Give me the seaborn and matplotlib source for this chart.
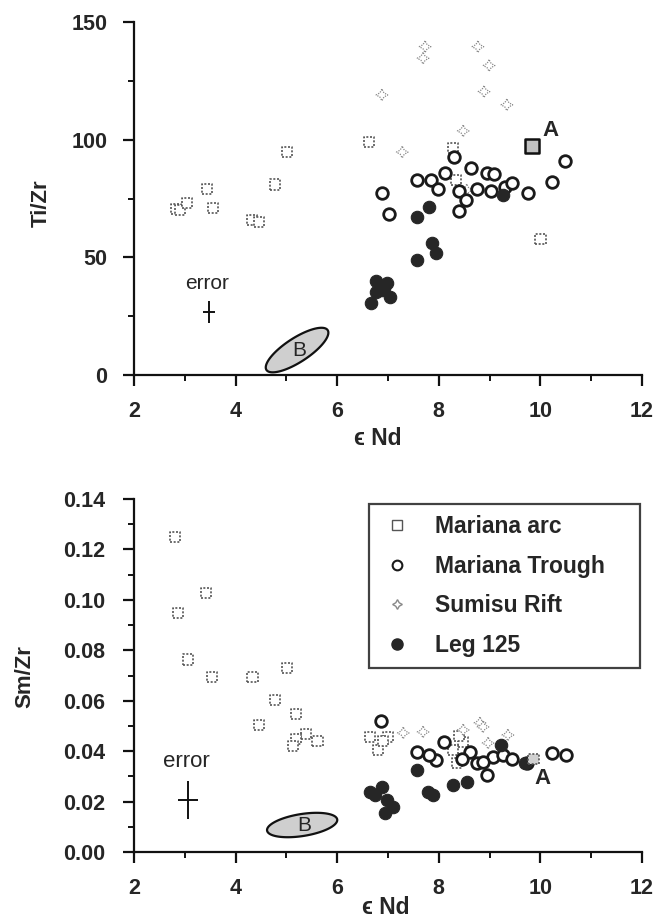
import numpy as np
import pandas as pd
import matplotlib
matplotlib.use("Agg")
import matplotlib.pyplot as plt
import seaborn as sns
from matplotlib.lines import Line2D

# ---------------- data ----------------
# Top panel: eps Nd vs Ti/Zr
arc_top_x = [2.83, 2.90, 3.04, 3.44, 3.56, 4.32, 4.46, 4.78, 5.01, 6.63, 8.28, 8.34, 10.0]
arc_top_y = [70.5, 70.0, 73.0, 79.0, 71.0, 66.0, 65.0, 81.0, 94.7, 99.0, 96.5, 83.0, 57.7]
trough_top_x = [6.88, 7.02, 7.57, 7.85, 7.98, 8.12, 8.63, 8.40, 8.54, 8.40, 8.75, 8.95, 9.09,
                9.03, 9.30, 9.44, 9.76, 10.22, 10.48, 8.30]
trough_top_y = [77.3, 68.4, 82.9, 82.9, 79.0, 86.0, 88.0, 78.2, 74.4, 69.7, 79.0, 86.0, 85.4,
                78.2, 80.0, 81.6, 77.3, 82.0, 91.0, 92.5]
sumisu_top_x = [7.73, 7.69, 6.88, 8.77, 8.99, 8.89, 9.34, 8.48, 7.28, 8.55]
sumisu_top_y = [139.5, 134.6, 119.0, 139.5, 131.5, 120.4, 114.8, 103.7, 94.7, 78.6]
leg_top_x = [9.27, 7.81, 7.57, 7.87, 7.94, 7.57, 6.76, 6.99, 6.76, 6.88, 7.04, 6.66, 6.92]
leg_top_y = [76.5, 71.4, 67.3, 56.0, 51.8, 48.9, 40.0, 39.0, 35.3, 36.0, 33.2, 30.5, 37.0]
a_top_x = [9.83]
a_top_y = [97.3]

# Bottom panel: eps Nd vs Sm/Zr
arc_bot_x = [2.81, 2.87, 3.42, 3.06, 3.54, 4.33, 5.01, 4.78, 4.46, 5.19, 5.39, 5.19, 5.13, 5.61,
             6.65, 7.00, 6.80, 6.90, 8.48, 8.28, 8.36, 8.40]
arc_bot_y = [0.125, 0.0947, 0.1028, 0.0764, 0.0693, 0.0693, 0.0731, 0.0603, 0.0504, 0.0547,
             0.0468, 0.0448, 0.0420, 0.0440, 0.0456, 0.0456, 0.0405, 0.0440, 0.0436, 0.0405,
             0.0353, 0.0460]
trough_bot_x = [6.86, 7.57, 7.94, 7.81, 8.10, 8.61, 8.75, 8.95, 9.07, 9.27, 9.44, 9.74, 10.22,
                10.50, 8.87, 8.45]
trough_bot_y = [0.052, 0.0397, 0.0365, 0.0385, 0.0436, 0.0397, 0.0353, 0.0305, 0.0377, 0.0385,
                0.0369, 0.0353, 0.0393, 0.0385, 0.0357, 0.0370]
sumisu_bot_x = [7.30, 7.69, 8.81, 8.87, 8.97, 9.36, 8.48]
sumisu_bot_y = [0.0472, 0.0476, 0.0512, 0.0496, 0.0432, 0.0464, 0.0484]
leg_bot_x = [9.22, 7.57, 6.65, 6.88, 6.98, 7.10, 6.94, 6.74, 7.79, 7.89, 8.28, 8.55, 9.70]
leg_bot_y = [0.0424, 0.0325, 0.0238, 0.0258, 0.0206, 0.0178, 0.0155, 0.0226, 0.0238, 0.0226,
             0.0266, 0.0278, 0.0353]
a_bot_x = [9.86]
a_bot_y = [0.0369]

series_names = ["Mariana arc", "Mariana Trough", "Sumisu Rift", "Leg 125"]
x_ticks = [2, 4, 6, 8, 10, 12]
y_ticks_top = [0, 50, 100, 150]
y_ticks_bot = [0.00, 0.02, 0.04, 0.06, 0.08, 0.10, 0.12, 0.14]

# ---------------- style ----------------
sns.set_theme(style="ticks")
plt.rcParams['font.family'] = ['Liberation Sans', 'DejaVu Sans']
plt.rcParams['font.weight'] = 'bold'

W, H = 664, 919
fig = plt.figure(figsize=(W / 100, H / 100), dpi=100)
ax1 = fig.add_axes([134 / W, 1 - 375 / H, 508 / W, 353 / H])
ax2 = fig.add_axes([134 / W, 1 - 852 / H, 508 / W, 353 / H])

styles = {
    "Mariana arc": dict(marker="s", s=55, facecolor="white", edgecolor="#555555",
                        linewidth=1.2, linestyle=(0, (1.2, 1.0))),
    "Mariana Trough": dict(marker="o", s=70, facecolor="white", edgecolor="#1a1a1a",
                           linewidth=2.0),
    "Sumisu Rift": dict(marker=(4, 1, 0), s=70, facecolor="white", edgecolor="#888888",
                        linewidth=0.9, linestyle=(0, (1.0, 1.0))),
    "Leg 125": dict(marker="o", s=80, facecolor="#262626", edgecolor="#262626",
                    linewidth=0.8),
}


def draw(ax, data):
    for name, (xs, ys) in data.items():
        df = pd.DataFrame({"x": xs, "y": ys})
        st = dict(styles[name])
        fc = st.pop("facecolor")
        ec = st.pop("edgecolor")
        sns.scatterplot(data=df, x="x", y="y", ax=ax, color=fc, edgecolor=ec,
                        legend=False, clip_on=False, zorder=3, **st)


draw(ax1, {"Mariana arc": (arc_top_x, arc_top_y),
           "Sumisu Rift": (sumisu_top_x, sumisu_top_y),
           "Mariana Trough": (trough_top_x, trough_top_y),
           "Leg 125": (leg_top_x, leg_top_y)})
draw(ax2, {"Mariana arc": (arc_bot_x, arc_bot_y),
           "Sumisu Rift": (sumisu_bot_x, sumisu_bot_y),
           "Mariana Trough": (trough_bot_x, trough_bot_y),
           "Leg 125": (leg_bot_x, leg_bot_y)})

# sample A
sns.scatterplot(x=a_top_x, y=a_top_y, ax=ax1, marker="s", s=110, color="#c0c0c0",
                edgecolor="#111111", linewidth=1.8, zorder=4, legend=False)
sns.scatterplot(x=a_bot_x, y=a_bot_y, ax=ax2, marker="s", s=60, color="#d0d0d0",
                edgecolor="#555555", linewidth=1.2, linestyle=(0, (1.2, 1.0)),
                zorder=4, legend=False)
ax1.text(10.19, 104, "A", fontsize=16, fontweight="bold", ha="center", va="center")
ax2.text(10.05, 0.029, "A", fontsize=16, fontweight="bold", ha="center", va="center")


def ellipse(ax, cx, cy, a_px, b_px, ang_deg, sx, sy, label):
    t = np.linspace(0, 2 * np.pi, 200)
    th = np.deg2rad(ang_deg)
    px = a_px * np.cos(t) * np.cos(th) - b_px * np.sin(t) * np.sin(th)
    py = a_px * np.cos(t) * np.sin(th) + b_px * np.sin(t) * np.cos(th)
    ax.fill(cx + px / sx, cy + py / sy, facecolor="#cfcfcf", edgecolor="#111111",
            linewidth=1.6, clip_on=False, zorder=2)
    ax.text(cx + 0.05, cy, label, fontsize=15, fontweight="normal", ha="center",
            va="center", zorder=3)


ellipse(ax1, 5.21, 10.6, 36.5, 12, 33, 50.8, 353 / 150, "B")
ellipse(ax2, 5.31, 0.0107, 35.5, 11, 9, 50.8, 353 / 0.14, "B")

# error crosses
ax1.errorbar([3.48], [26.8], xerr=[0.12], yerr=[4.5], fmt="none", ecolor="#111111",
             elinewidth=1.4, capsize=0)
ax1.text(3.44, 39, "error", fontsize=15, fontweight="normal", ha="center", va="center")
ax2.errorbar([3.06], [0.0206], xerr=[0.2], yerr=[0.0077], fmt="none", ecolor="#111111",
             elinewidth=1.4, capsize=0)
ax2.text(3.04, 0.0357, "error", fontsize=16, fontweight="normal", ha="center", va="center")

# axes formatting
for ax, yt, ylab, ylim, minor in [
        (ax1, y_ticks_top, "Ti/Zr", (0, 150), [25, 75, 125]),
        (ax2, y_ticks_bot, "Sm/Zr", (0, 0.14), [0.01, 0.03, 0.05, 0.07, 0.09, 0.11, 0.13])]:
    ax.set_xlim(2, 12)
    ax.set_ylim(*ylim)
    ax.set_xticks(x_ticks)
    ax.set_xticks([3, 5, 7, 9, 11], minor=True)
    ax.set_yticks(yt)
    ax.set_yticks(minor, minor=True)
    sns.despine(ax=ax)
    for sp in ["left", "bottom"]:
        ax.spines[sp].set_linewidth(1.6)
        ax.spines[sp].set_color("#111111")
    ax.tick_params(which="major", length=8, width=1.6, color="#111111", labelsize=15.5)
    ax.tick_params(which="minor", length=4.5, width=1.4, color="#111111")
    ax.set_xlabel("ϵ Nd", fontsize=16.5, fontweight="bold")
    ax.set_ylabel(ylab, fontsize=16, fontweight="bold")
    for lbl in ax.get_xticklabels() + ax.get_yticklabels():
        lbl.set_fontweight("bold")

ax2.set_yticklabels([f"{v:.2f}" for v in y_ticks_bot])
ax1.set_yticklabels([str(v) for v in y_ticks_top])
ax1.tick_params(axis="y", which="major", pad=11)
ax1.tick_params(axis="x", which="major", pad=11)
ax2.tick_params(axis="y", which="major", pad=13)
ax2.tick_params(axis="x", which="major", pad=11)
ax1.xaxis.set_label_coords((378 - 134) / 508, (375 - 427) / 353)
ax2.xaxis.set_label_coords((386 - 134) / 508, (852 - 896) / 353)
ax1.yaxis.set_label_coords((52 - 134) / 508, (375 - 203) / 353)
ax2.yaxis.set_label_coords((35 - 134) / 508, (852 - 677) / 353)

# legend
handles = []
for name in series_names:
    st = styles[name]
    handles.append(Line2D([], [], linestyle="none", marker=st["marker"],
                          markersize=7 if name != "Leg 125" else 8,
                          markerfacecolor=st["facecolor"], markeredgecolor=st["edgecolor"],
                          markeredgewidth=1.5 if name == "Mariana Trough" else 1.0,
                          label=name))
leg = ax2.legend(handles=handles, loc="upper left",
                 bbox_to_anchor=((369 - 134) / 508, (852 - 668) / 353, (640 - 369) / 508,
                                 (668 - 504) / 353),
                 mode="expand", frameon=True, fancybox=False, fontsize=16.5,
                 labelspacing=0.72, borderpad=0.5, handletextpad=1.0, handlelength=1.4,
                 borderaxespad=0)
leg.get_frame().set_edgecolor("#111111")
leg.get_frame().set_linewidth(1.6)
for txt in leg.get_texts():
    txt.set_fontweight("bold")

fig.savefig("out.png", dpi=100, facecolor="white")
